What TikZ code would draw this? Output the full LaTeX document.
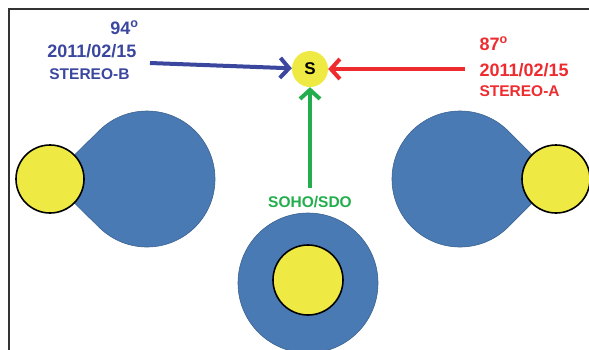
\documentclass[tikz,border=0pt]{standalone}
\usepackage{fontspec}
\setmainfont{Liberation Sans}
\usetikzlibrary{arrows.meta, positioning, calc}
\definecolor{stBlue}{HTML}{3B479E}
\definecolor{stRed}{HTML}{EE2B2E}
\definecolor{stGreen}{HTML}{22AE4C}
\definecolor{cmeBlue}{HTML}{4A7AB3}
\definecolor{sunYellow}{HTML}{EFEA43}
\tikzset{
	disk/.style={circle, draw=black, fill=sunYellow, line width=1.6pt, inner sep=0pt},
	cme/.style={fill=cmeBlue, draw=cmeBlue!80!black, line width=0.6pt},
	big/.style={font=\bfseries\fontsize{18}{18}\selectfont},
	small/.style={font=\bfseries\fontsize{15.5}{15.5}\selectfont},
	line/.style={draw, line width=4pt, -{Straight Barb[length=9pt, width=20pt]}}
}

\begin{document}
\begin{tikzpicture}[x=1pt, y=-1pt]
	\useasboundingbox (0,0) rectangle (589,349);
	\clip (0,0) rectangle (589,349);
	\draw[black!80, line width=2pt] (8.5,9) rectangle (620,380);

	% CME halos, seen from the side
	\filldraw[cme] (50,179) -- ($(147,179)+(134.5:68)$)
		arc[start angle=134.5, end angle=-134.5, radius=68] -- cycle;
	\filldraw[cme] (556,179) -- ($(460,179)+(45:68)$)
		arc[start angle=45, end angle=315, radius=68] -- cycle;
	% halo seen head-on
	\filldraw[cme] (308,283) circle[radius=70];

	% Sun disks
	\node[disk, minimum size=68pt] (D-B) at (50,179) {};
	\node[disk, minimum size=68pt] (D-A) at (556,179) {};
	\node[disk, minimum size=70pt] (D-S) at (308,280) {};

	% Sun seen by all three
	\node[circle, fill=sunYellow, minimum size=36pt, inner sep=0pt,
		font=\bfseries\fontsize{17}{17}\selectfont] (sun) at (310,69) {S};

	% STEREO-B
	\node[big, text=stBlue, anchor=base east] (B-1) at (142,34) {94\textsuperscript{o}};
	\node[big, text=stBlue, anchor=base east] (B-2) at (140,57) {2011/02/15};
	\node[small, text=stBlue, anchor=base east] (B-3) at (133,79) {STEREO-B};
	% STEREO-A
	\node[big, text=stRed, anchor=base west] (A-1) at (476,50) {87\textsuperscript{o}};
	\node[big, text=stRed, anchor=base west] (A-2) at (476,76) {2011/02/15};
	\node[small, text=stRed, anchor=base west] (A-3) at (476,96) {STEREO-A};
	% SOHO/SDO
	\node[small, text=stGreen, anchor=base] (S-1) at (310,207) {SOHO/SDO};

	% Lines of sight
	\coordinate (tail-B) at (150,63);
	\coordinate (tail-A) at (465,69);
	\coordinate (tail-S) at (310,188);
	\draw[line, stBlue] (tail-B) -- (sun);
	\draw[line, stRed] (tail-A) -- (sun);
	\draw[line, stGreen] (tail-S) -- (sun);
\end{tikzpicture}
\end{document}
